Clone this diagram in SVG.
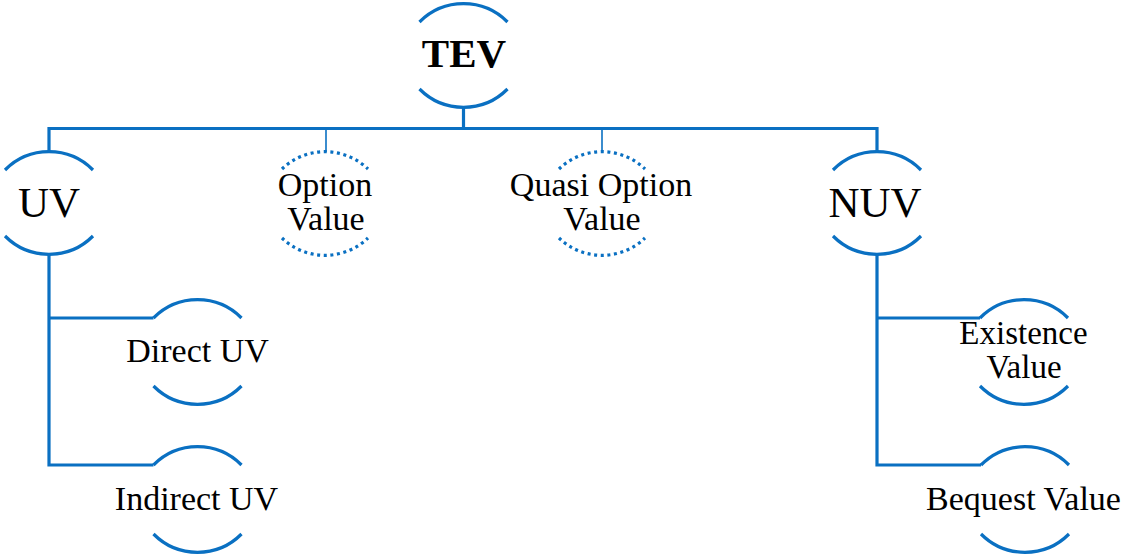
<svg xmlns="http://www.w3.org/2000/svg" width="1125" height="557" viewBox="0 0 1125 557">
  <style>
    .arc { fill: none; stroke: #0A70C2; stroke-width: 3.2; }
    .dot { fill: none; stroke: #0A70C2; stroke-width: 3.2; stroke-dasharray: 3 3.6; }
    .conn { fill: none; stroke: #0A70C2; stroke-width: 3.2; stroke-linejoin: miter; }
    .thin { fill: none; stroke: #0A70C2; stroke-width: 1.6; }
    text { font-family: "Liberation Serif", "Times New Roman", serif; fill: #000; text-anchor: middle; }
    .t34 { font-size: 34px; }
  </style>
  <rect width="1125" height="557" fill="#fff"/>
  <g id="connectors">
    <path class="conn" d="M463.5,107 V128.5"/>
    <path class="conn" d="M49,152 V128.5 H877 V152"/>
    <path class="thin" d="M326,128.5 V152"/>
    <path class="thin" d="M602,128.5 V152"/>
    <path class="conn" d="M49,254 V465 H153.5"/>
    <path class="conn" d="M49,318 H153.5"/>
    <path class="conn" d="M877,254 V465 H981"/>
    <path class="conn" d="M877,318 H980"/>
  </g>
  <g id="node-tev">
    <path class="arc" d="M419.5,22 A62,62 0 0 1 507.5,22"/>
    <path class="arc" d="M419.5,89 A62,62 0 0 0 507.5,89"/>
    <text x="464" y="67" font-size="41" font-weight="bold">TEV</text>
  </g>
  <g id="node-uv">
    <path class="arc" d="M5,170 A62,62 0 0 1 93,170"/>
    <path class="arc" d="M5,236 A62,62 0 0 0 93,236"/>
    <text x="49" y="217" font-size="43">UV</text>
  </g>
  <g id="node-option">
    <path class="dot" d="M282,169 A62,62 0 0 1 368,169"/>
    <path class="dot" d="M282,238 A62,62 0 0 0 368,238"/>
    <text class="t34" x="325" y="196">Option</text>
    <text class="t34" x="326" y="230">Value</text>
  </g>
  <g id="node-quasi">
    <path class="dot" d="M559,169 A62,62 0 0 1 645,169"/>
    <path class="dot" d="M559,238 A62,62 0 0 0 645,238"/>
    <text class="t34" x="601" y="196">Quasi Option</text>
    <text class="t34" x="602" y="230">Value</text>
  </g>
  <g id="node-nuv">
    <path class="arc" d="M833,170 A62,62 0 0 1 921,170"/>
    <path class="arc" d="M833,236 A62,62 0 0 0 921,236"/>
    <text x="875" y="217" font-size="43">NUV</text>
  </g>
  <g id="node-direct">
    <path class="arc" d="M153.5,318 A62,62 0 0 1 241.5,318"/>
    <path class="arc" d="M153.5,386 A62,62 0 0 0 241.5,386"/>
    <text class="t34" x="197.5" y="362">Direct UV</text>
  </g>
  <g id="node-indirect">
    <path class="arc" d="M153.5,465 A62,62 0 0 1 241.5,465"/>
    <path class="arc" d="M153.5,534 A62,62 0 0 0 241.5,534"/>
    <text class="t34" x="196.5" y="510">Indirect UV</text>
  </g>
  <g id="node-existence">
    <path class="arc" d="M980,318 A62,62 0 0 1 1068,318"/>
    <path class="arc" d="M980,386 A62,62 0 0 0 1068,386"/>
    <text x="1023.5" y="344" font-size="33">Existence</text>
    <text x="1024" y="378" font-size="33">Value</text>
  </g>
  <g id="node-bequest">
    <path class="arc" d="M981,465 A62,62 0 0 1 1069,465"/>
    <path class="arc" d="M981,534 A62,62 0 0 0 1069,534"/>
    <text class="t34" x="1023.5" y="510">Bequest Value</text>
  </g>
</svg>
